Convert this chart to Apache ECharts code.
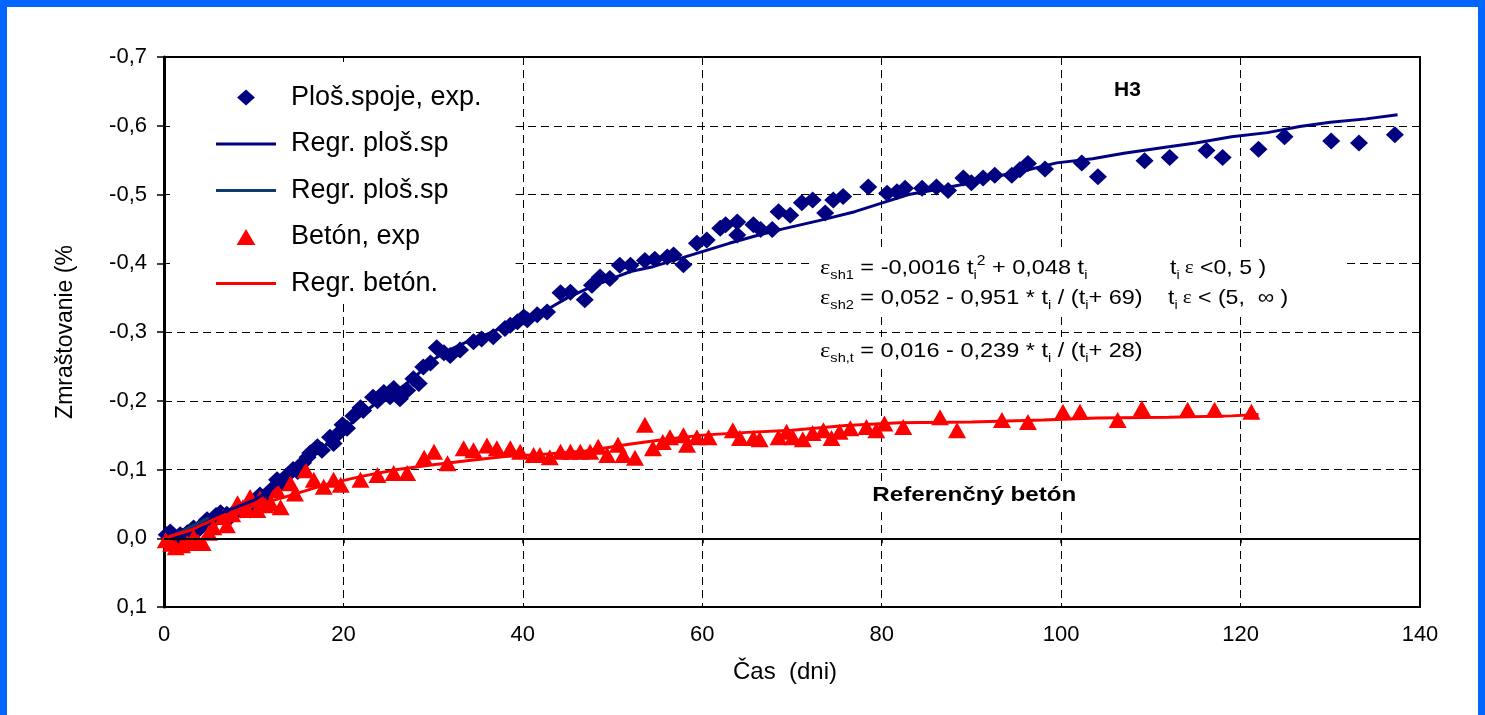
<!DOCTYPE html>
<html><head><meta charset="utf-8">
<script src="https://cdn.jsdelivr.net/npm/echarts@6/dist/echarts.min.js"></script>
<style>
html,body{margin:0;padding:0;width:1485px;height:715px;overflow:hidden;background:#0066FF;}
#frame{position:absolute;left:7px;top:7px;width:1471px;height:708px;background:#fff;}
#chart{position:absolute;left:0;top:0;width:1485px;height:715px;}
</style></head><body><div id="frame"></div><div id="chart"></div>
<script>
// ---- data (t in days, shrinkage in %) ----
const xTicks = [0, 20, 40, 60, 80, 100, 120, 140];
const yTickLabels = ['-0,7','-0,6','-0,5','-0,4','-0,3','-0,2','-0,1','0,0','0,1'];

const plosExp = [
[0.3,-0.005],[0.7,-0.009],[1.3,0.002],[1.8,-0.005],[2.1,-0.003],[2.6,-0.008],[3.3,-0.015],[3.8,-0.012],[4.3,-0.02],[4.8,-0.027],
[5.4,-0.024],[5.8,-0.033],[6.3,-0.037],[7.0,-0.035],[7.4,-0.031],[8.0,-0.04],[8.5,-0.041],[9.3,-0.045],[9.6,-0.041],[10.2,-0.055],
[10.7,-0.063],[11.3,-0.06],[11.9,-0.07],[12.6,-0.085],[13.0,-0.08],[13.6,-0.09],[14.4,-0.1],[14.9,-0.097],[15.5,-0.11],[16.0,-0.118],
[16.3,-0.124],[17.1,-0.133],[17.6,-0.128],[18.5,-0.147],[18.9,-0.138],[19.4,-0.152],[19.9,-0.165],[20.4,-0.16],[21.1,-0.178],[21.9,-0.19],
[22.2,-0.186],[23.3,-0.205],[23.8,-0.2],[24.5,-0.212],[25.2,-0.206],[25.6,-0.218],[26.3,-0.203],[27.1,-0.215],[27.8,-0.232],[28.4,-0.225],
[28.9,-0.249],[29.7,-0.255],[30.4,-0.277],[31.2,-0.27],[31.9,-0.266],[33.0,-0.274],[34.5,-0.286],[35.4,-0.29],[36.7,-0.293],[38.0,-0.305],
[38.6,-0.31],[39.4,-0.315],[40.1,-0.322],[40.5,-0.318],[41.6,-0.325],[42.7,-0.329],[44.2,-0.357],[45.3,-0.358],[46.9,-0.347],[47.7,-0.368],
[48.6,-0.38],[49.7,-0.378],[50.8,-0.397],[52.0,-0.397],[53.6,-0.404],[54.7,-0.406],[56.1,-0.409],[56.8,-0.412],[57.9,-0.398],[59.4,-0.429],
[60.5,-0.434],[62.0,-0.451],[62.6,-0.456],[63.9,-0.46],[63.9,-0.441],[65.7,-0.456],[66.5,-0.449],[67.8,-0.449],[68.5,-0.475],[69.8,-0.47],
[71.1,-0.488],[72.3,-0.492],[73.7,-0.473],[74.6,-0.492],[75.7,-0.497],[78.5,-0.511],[80.6,-0.502],[81.7,-0.504],[82.6,-0.509],[84.5,-0.509],
[86.1,-0.511],[87.4,-0.506],[89.1,-0.524],[90.0,-0.517],[91.3,-0.524],[92.6,-0.528],[94.5,-0.528],[95.4,-0.536],[96.3,-0.545],[98.2,-0.537],
[102.3,-0.546],[104.1,-0.526],[109.3,-0.549],[112.1,-0.554],[116.2,-0.564],[118.0,-0.554],[122.0,-0.566],[124.9,-0.584],[130.1,-0.578],[133.2,-0.575],
[137.2,-0.587]
];

const plosReg1 = [[0,0],[1,-0.005],[2,-0.01],[3,-0.017],[4,-0.023],[5,-0.03]];

const plosReg2 = [
[5,-0.03],[8,-0.045],[10,-0.055],[12,-0.072],[14,-0.092],[16,-0.113],[18,-0.135],[20,-0.157],[22,-0.18],[24,-0.2],
[26,-0.215],[28,-0.235],[30,-0.26],[32,-0.275],[34,-0.287],[36,-0.297],[38,-0.308],[40,-0.318],[43,-0.335],[45,-0.35],
[47,-0.362],[50,-0.378],[52,-0.388],[54.5,-0.395],[57,-0.405],[60,-0.417],[63,-0.429],[66,-0.44],[69,-0.45],[73,-0.462],
[77,-0.475],[80.6,-0.49],[83,-0.5],[86,-0.507],[90,-0.517],[93,-0.527],[96,-0.535],[99.5,-0.546],[103.5,-0.552],[107,-0.56],
[111.8,-0.569],[115,-0.575],[119,-0.584],[123,-0.59],[126.6,-0.599],[130,-0.605],[134,-0.61],[137.5,-0.616]
];

const betonExp = [
[0.2,0.003],[0.8,0.008],[1.3,0.013],[2.0,0.01],[2.6,0.007],[3.3,-0.002],[3.8,0.005],[4.3,0.007],[5.0,-0.008],[5.5,-0.016],
[6.6,-0.031],[7.0,-0.019],[7.6,-0.035],[8.2,-0.051],[8.8,-0.045],[9.3,-0.041],[9.6,-0.06],[10.4,-0.041],[10.7,-0.058],[11.3,-0.048],
[11.9,-0.051],[12.6,-0.07],[13.0,-0.045],[14.1,-0.08],[14.6,-0.065],[15.8,-0.099],[16.7,-0.085],[17.8,-0.075],[18.9,-0.085],[19.7,-0.078],
[21.9,-0.085],[23.8,-0.092],[25.6,-0.095],[27.1,-0.095],[29.0,-0.117],[30.1,-0.126],[31.6,-0.109],[33.4,-0.131],[34.5,-0.128],[36.0,-0.135],
[37.1,-0.131],[38.6,-0.131],[39.7,-0.126],[41.2,-0.121],[41.9,-0.121],[43.0,-0.118],[44.2,-0.126],[45.3,-0.126],[46.4,-0.126],[47.5,-0.126],
[48.4,-0.133],[49.4,-0.121],[50.6,-0.136],[51.2,-0.121],[52.5,-0.117],[53.6,-0.165],[54.5,-0.131],[55.6,-0.14],[56.4,-0.147],[57.9,-0.15],
[58.3,-0.136],[59.4,-0.147],[60.7,-0.147],[63.4,-0.157],[64.2,-0.146],[65.7,-0.146],[66.4,-0.144],[68.5,-0.147],[69.4,-0.155],[70.1,-0.147],
[71.2,-0.144],[72.3,-0.153],[73.5,-0.157],[74.4,-0.146],[75.3,-0.155],[76.5,-0.16],[78.3,-0.162],[79.4,-0.157],[80.3,-0.167],[82.4,-0.162],
[86.5,-0.176],[88.4,-0.157],[93.4,-0.172],[96.3,-0.169],[100.2,-0.184],[102.1,-0.184],[106.3,-0.172],[109.0,-0.189],[114.1,-0.187],[117.1,-0.187],
[121.2,-0.184]
];

const betonReg = [
[0,0.0],[3,-0.012],[6,-0.03],[10,-0.047],[14,-0.062],[18,-0.078],[22,-0.09],[26,-0.1],[30,-0.107],[34,-0.113],
[38,-0.119],[42,-0.122],[47,-0.127],[52,-0.137],[56,-0.144],[60,-0.15],[65,-0.154],[70,-0.157],[76,-0.164],[82,-0.168],
[90,-0.169],[98,-0.172],[104,-0.175],[112,-0.176],[119,-0.178],[122,-0.18]
];

const seriesNames = ['Ploš.spoje, exp.', 'Regr. ploš.sp', 'Regr. ploš.sp ', 'Betón, exp', 'Regr. betón.'];

// ---- chart ----
const FONT = "'Liberation Sans', Arial, sans-serif";
const chart = echarts.init(document.getElementById('chart'), null, {renderer:'canvas'});

function fmtY(v){
  const idx = Math.round((v + 0.7) / 0.1);
  return yTickLabels[idx] !== undefined ? yTickLabels[idx] : String(v);
}
const dash = {color:'#000', type:[8,5], width:1};

// legend icons drawn in a 60x16 frame (degenerate corner points fix the frame)
const FRAME = 'M0,0L0,0M60,16L60,16';
const ICON_DIAMOND = 'path://' + FRAME + 'M30,-0.5L39.5,8L30,16.5L20.5,8Z';
const ICON_TRIANGLE = 'path://' + FRAME + 'M30,-0.5L40,16.5L20,16.5Z';
const ICON_LINE = 'path://' + FRAME + 'M0,6.4L60,6.4L60,9.6L0,9.6Z';

const eqRich = {
  n: {fontSize:21, fontFamily:FONT, color:'#000'},
  e: {fontSize:22, fontFamily:"'Liberation Serif', serif", color:'#000'},
  es: {fontSize:19, fontFamily:"'Liberation Serif', serif", color:'#000'},
  s: {fontSize:13, fontFamily:FONT, color:'#000', padding:[15,0,0,0]},
  p: {fontSize:14, fontFamily:FONT, color:'#000', padding:[0,0,13,0]}
};
function eqText(x, y, txt, sx){
  return {type:'text', x:x, y:y, z:10, scaleX:sx, originX:0, originY:0,
    style:{text:txt, rich:eqRich, font:'21px '+FONT, fill:'#000', align:'left', verticalAlign:'middle'}};
}

const option = {
  animation:false,
  backgroundColor:'transparent',
  textStyle:{fontFamily:FONT},
  grid:{left:164, top:57, width:1256, height:550, show:true, borderColor:'#000', borderWidth:2, backgroundColor:'transparent'},
  xAxis:[{type:'value', min:0, max:140, interval:20,
    axisLine:{onZero:false, lineStyle:{color:'#000', width:2}},
    axisTick:{show:false},
    axisLabel:{color:'#000', fontSize:22, margin:17, fontFamily:FONT},
    splitLine:{show:true, lineStyle:dash},
    name:'Čas  (dni)', nameLocation:'middle', nameGap:53,
    nameTextStyle:{color:'#000', fontSize:24, fontFamily:FONT, padding:[0,14,0,0]}},
   {type:'value', min:0, max:140, interval:20, position:'bottom',
    axisLine:{show:false, onZero:true},
    axisTick:{show:true, length:5, lineStyle:{color:'#000', width:1.5}},
    axisLabel:{show:false}, splitLine:{show:false}}],
  yAxis:{type:'value', inverse:true, min:-0.7, max:0.1, interval:0.1,
    axisLine:{show:true, onZero:false, lineStyle:{color:'#000', width:3}},
    axisTick:{show:true, length:7, lineStyle:{color:'#000', width:1.5}},
    axisLabel:{color:'#000', fontSize:22, margin:17, fontFamily:FONT, formatter:fmtY},
    splitLine:{show:true, lineStyle:dash},
    name:'Zmraštovanie (%', nameLocation:'middle', nameGap:87,
    nameTextStyle:{color:'#000', fontSize:23, fontFamily:FONT}},
  legend:{orient:'vertical', left:170, top:62, padding:[22,34,6,46],
    itemWidth:60, itemHeight:16, itemGap:19.5, backgroundColor:'#fff',
    textStyle:{color:'#000', fontSize:27, fontFamily:FONT, rich:{g:{width:10, fontSize:27}}},
    formatter: n => '{g|}' + n,
    data:[
      {name:seriesNames[0], icon:ICON_DIAMOND},
      {name:seriesNames[1], icon:ICON_LINE},
      {name:seriesNames[2], icon:ICON_LINE},
      {name:seriesNames[3], icon:ICON_TRIANGLE},
      {name:seriesNames[4], icon:ICON_LINE}
    ]},
  series:[
    {name:seriesNames[0], type:'scatter', data:plosExp, symbol:'diamond', symbolSize:[18,17],
      itemStyle:{color:'#000080', opacity:1}},
    {name:seriesNames[1], type:'line', data:plosReg2, symbol:'none', showSymbol:false,
      lineStyle:{color:'#000080', width:3}, itemStyle:{color:'#000080'}},
    {name:seriesNames[2], type:'line', data:plosReg1, symbol:'none', showSymbol:false,
      lineStyle:{color:'#0B3B6E', width:3}, itemStyle:{color:'#0B3B6E'}},
    {name:seriesNames[3], type:'scatter', data:betonExp, symbol:'triangle', symbolSize:[18,16],
      itemStyle:{color:'#FF0000', opacity:1}},
    {name:seriesNames[4], type:'line', data:betonReg, symbol:'none', showSymbol:false,
      lineStyle:{color:'#FF0000', width:3}, itemStyle:{color:'#FF0000'},
      markLine:{silent:true, symbol:'none', label:{show:false}, animation:false,
        lineStyle:{color:'#000', width:2, type:'solid'}, data:[{yAxis:0}]}}
  ],
  graphic:[
    {type:'rect', z:1, shape:{x:812, y:249, width:533, height:64}, style:{fill:'#fff'}},
    {type:'rect', z:1, shape:{x:812, y:337, width:340, height:30}, style:{fill:'#fff'}},
    eqText(820, 268, '{e|ε}{s|sh1}{n| = -0,0016 t}{s|i}{p|2}{n| + 0,048 t}{s|i}', 1.12),
    eqText(1170, 268, '{n|t}{s|i}{es| ε}{n| <0, 5 )}', 1.1),
    eqText(820, 298, '{e|ε}{s|sh2}{n| = 0,052 - 0,951 * t}{s|i}{n| / (t}{s|i}{n|+ 69)}', 1.12),
    eqText(1168, 298, '{n|t}{s|i}{es| ε}{n| < (5,  ∞ )}', 1.1),
    eqText(820, 351, '{e|ε}{s|sh,t}{n| = 0,016 - 0,239 * t}{s|i}{n| / (t}{s|i}{n|+ 28)}', 1.12),
    {type:'text', x:1114, y:90, z:10, scaleX:1.05, style:{text:'H3', font:'bold 20px '+FONT, fill:'#000', align:'left', verticalAlign:'middle'}},
    {type:'text', x:870, y:495, z:10, scaleX:1.15, style:{text:'Referenčný betón', font:'bold 21px '+FONT, fill:'#000', align:'left', verticalAlign:'middle', backgroundColor:'#fff', padding:[2,2,2,2]}}
  ]
};
chart.setOption(option);
</script>
</body></html>
